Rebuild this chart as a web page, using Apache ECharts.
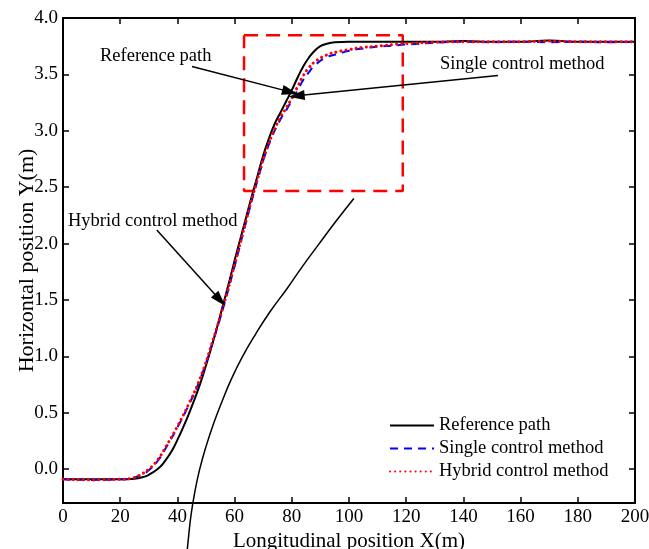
<!DOCTYPE html>
<html>
<head>
<meta charset="utf-8">
<script src="https://cdn.jsdelivr.net/npm/echarts@6/dist/echarts.min.js"></script>
<style>
    html, body { margin: 0; padding: 0; background: #fff; }
    #pathChart { width: 649px; height: 549px; }
</style>
</head>
<body>
<div id="pathChart"></div>
<script>
// 轨迹数据 [X(m), Y(m)]
var refPath = [
    [0, -0.09], [10, -0.09], [20, -0.09], [25, -0.085], [28, -0.07], [30, -0.05], [33, 0.0],
    [35, 0.05], [38, 0.16], [40, 0.26], [42, 0.37], [44, 0.49], [46, 0.62], [48, 0.76],
    [50, 0.92], [52, 1.09], [54, 1.27], [56, 1.46], [58, 1.65], [60, 1.85], [62, 2.04],
    [64, 2.23], [66, 2.42], [68, 2.6], [70, 2.78], [72, 2.93], [74, 3.06], [76, 3.16],
    [78, 3.26], [80, 3.36], [82, 3.47], [84, 3.57], [86, 3.65], [88, 3.71], [90, 3.75],
    [92, 3.77], [95, 3.785], [100, 3.79], [110, 3.79], [120, 3.79], [130, 3.79],
    [140, 3.795], [150, 3.79], [160, 3.79], [170, 3.8], [180, 3.79], [190, 3.79], [200, 3.79]
];
var singleCtrl = [
    [0, -0.09], [10, -0.095], [20, -0.09], [24, -0.08], [27, -0.055], [30, -0.01], [33, 0.07],
    [36, 0.19], [40, 0.37], [44, 0.57], [48, 0.8], [52, 1.1], [56, 1.43], [60, 1.8],
    [64, 2.19], [68, 2.56], [72, 2.88], [76, 3.1], [78, 3.18], [80, 3.27], [82, 3.36],
    [84, 3.45], [86, 3.52], [88, 3.58], [92, 3.65], [96, 3.68], [100, 3.71], [105, 3.73],
    [110, 3.745], [115, 3.755], [120, 3.765], [130, 3.78], [140, 3.79], [150, 3.785],
    [160, 3.79], [170, 3.785], [180, 3.79], [190, 3.785], [200, 3.79]
];
var hybridCtrl = [
    [0, -0.09], [10, -0.095], [20, -0.09], [24, -0.08], [27, -0.05], [30, 0.0], [33, 0.08],
    [36, 0.2], [40, 0.38], [44, 0.58], [48, 0.81], [52, 1.11], [56, 1.44], [60, 1.81],
    [64, 2.2], [68, 2.57], [72, 2.89], [76, 3.12], [78, 3.2], [80, 3.29], [82, 3.39],
    [84, 3.49], [86, 3.56], [88, 3.61], [92, 3.67], [96, 3.7], [100, 3.72], [105, 3.74],
    [110, 3.75], [118, 3.77], [130, 3.785], [140, 3.79], [150, 3.79], [160, 3.79],
    [170, 3.795], [180, 3.79], [190, 3.79], [200, 3.79]
];

// 放大框与引出曲线
var zoomBox = [[63.3, 3.848], [118.8, 3.848], [118.8, 2.467], [63.3, 2.467], [63.3, 3.848]];
var leaderCurve = [
    [101.7, 2.4], [95.5, 2.2], [89.6, 2.0], [83.8, 1.8], [78.3, 1.6], [72.5, 1.4],
    [67.4, 1.2], [62.8, 1.0], [58.9, 0.8], [55.6, 0.6], [52.6, 0.4], [50.0, 0.2],
    [47.8, 0.0], [46.1, -0.2], [44.8, -0.4], [43.9, -0.6], [43.3, -0.76]
];

// 箭头 [起点, 终点]
var arrows = [
    [[45.1, 3.57], [79.4, 3.345]],
    [[152.1, 3.49], [81.7, 3.31]],
    [[32.8, 2.12], [54.9, 1.5]]
];

var yTicks = [0, 0.5, 1.0, 1.5, 2.0, 2.5, 3.0, 3.5, 4.0];

var legendName = ['Reference path', 'Single control method', 'Hybrid control method'];
var serif = 'Liberation Serif';

var myChart = echarts.init(document.getElementById('pathChart'));

function arrowLines(){
    var lines = [];
    for(var i=0; i<arrows.length; i++){
        lines.push([{coord: arrows[i][0]}, {coord: arrows[i][1]}]);
    }
    return lines;
}

function axisX(show){
    return {
        type: 'value',
        min: 0,
        max: 200,
        interval: 20,
        position: show ? 'bottom' : 'top',
        name: show ? 'Longitudinal position X(m)' : '',
        nameLocation: 'middle',
        nameGap: 28,
        nameMoveOverlap: false,
        nameTextStyle: { fontFamily: serif, fontSize: 21, color: '#000' },
        axisLine: { show: true, onZero: false, lineStyle: { color: '#000', width: 2 } },
        axisTick: { show: true, inside: true, length: 6, lineStyle: { color: '#000', width: 1.5 } },
        axisLabel: { show: show, fontFamily: serif, fontSize: 19, color: '#000', margin: 5 },
        splitLine: { show: false }
    };
}

function axisY(show){
    return {
        type: 'value',
        min: -0.3,
        max: 4.0,
        position: show ? 'left' : 'right',
        name: show ? 'Horizontal position Y(m)' : '',
        nameLocation: 'middle',
        nameGap: 25,
        nameMoveOverlap: false,
        nameTextStyle: { fontFamily: serif, fontSize: 22, color: '#000' },
        axisLine: { show: true, onZero: false, lineStyle: { color: '#000', width: 2 } },
        axisTick: { show: true, inside: true, length: 6, customValues: yTicks, lineStyle: { color: '#000', width: 1.5 } },
        axisLabel: {
            show: show, fontFamily: serif, fontSize: 19, color: '#000', margin: 5,
            customValues: yTicks,
            formatter: function (v) { return v.toFixed(1); }
        },
        splitLine: { show: false }
    };
}

var option = {
    animation: false,
    grid: { left: 63, right: 14, top: 18, bottom: 46, outerBoundsMode: 'none', containLabel: false },
    legend: {
        orient: 'vertical',
        left: 384,
        top: 411,
        itemWidth: 44,
        itemHeight: 14,
        itemGap: 4,
        data: legendName,
        itemStyle: { opacity: 0 },
        textStyle: { fontFamily: serif, fontSize: 18.5, color: '#000' }
    },
    xAxis: [axisX(true), axisX(false)],
    yAxis: [axisY(true), axisY(false)],
    graphic: [
        { type: 'text', left: 100, top: 47, style: { text: 'Reference path', font: '18.5px "Liberation Serif"', fill: '#000' } },
        { type: 'text', left: 440, top: 55, style: { text: 'Single control method', font: '18.5px "Liberation Serif"', fill: '#000' } },
        { type: 'text', left: 68, top: 212, style: { text: 'Hybrid control method', font: '18.5px "Liberation Serif"', fill: '#000' } }
    ],
    series: [
        {
            name: 'zoomBox',
            type: 'line',
            data: zoomBox,
            symbol: 'none',
            silent: true,
            lineStyle: { color: '#f00', width: 2.5, type: [14, 8] }
        },
        {
            name: 'leader',
            type: 'line',
            data: leaderCurve,
            symbol: 'none',
            smooth: true,
            clip: false,
            silent: true,
            lineStyle: { color: '#000', width: 1.5 }
        },
        {
            name: 'Reference path',
            type: 'line',
            data: refPath,
            symbol: 'none',
            smooth: true,
            lineStyle: { color: '#000', width: 2 },
            itemStyle: { color: '#000' },
            markLine: {
                silent: true,
                symbol: ['none', 'triangle'],
                symbolSize: [10, 16],
                label: { show: false },
                lineStyle: { color: '#000', width: 1.5, type: 'solid' },
                itemStyle: { color: '#000' },
                data: arrowLines()
            }
        },
        {
            name: 'Single control method',
            type: 'line',
            data: singleCtrl,
            symbol: 'none',
            smooth: true,
            lineStyle: { color: '#0000ff', width: 2, type: [8, 6] },
            itemStyle: { color: '#0000ff' }
        },
        {
            name: 'Hybrid control method',
            type: 'line',
            data: hybridCtrl,
            symbol: 'none',
            smooth: true,
            lineStyle: { color: '#ff0000', width: 3, type: [0.1, 5], cap: 'round' },
            itemStyle: { color: '#ff0000' }
        }
    ]
};

myChart.setOption(option);
</script>
</body>
</html>
